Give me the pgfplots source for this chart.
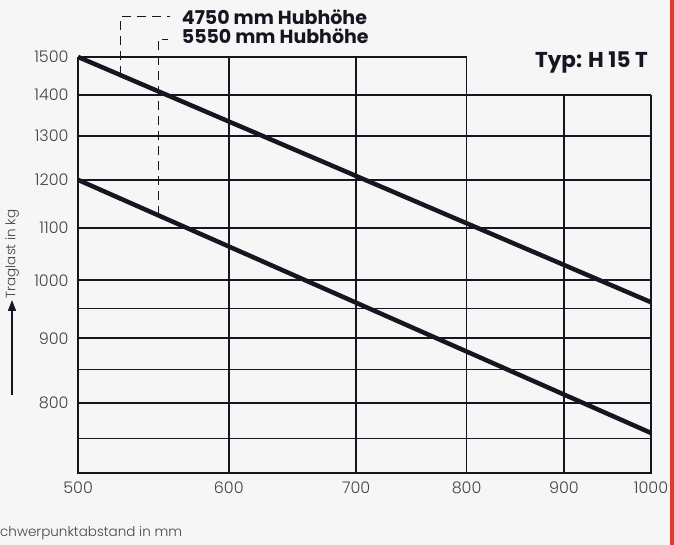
\documentclass[border=0pt]{standalone}
\usepackage{fontspec}
\setmainfont{Poppins}[UprightFont=* Light, BoldFont=* Bold]
\usepackage{pgfplots}
\pgfplotsset{compat=1.18}
\usetikzlibrary{arrows.meta}
\definecolor{ink}{HTML}{15161F}
\definecolor{lab}{HTML}{444444}
\definecolor{bg}{HTML}{F6F6F6}
\definecolor{scanred}{HTML}{E23A2E}
\begin{document}
\begin{tikzpicture}
\fill[bg] (-78pt,-72pt) rectangle (596pt,473pt);
\path[use as bounding box] (-78pt,-72pt) rectangle (596pt,473pt);
\fill[scanred] (592pt,-72pt) rectangle (596pt,473pt);
\begin{axis}[at={(0pt,0pt)}, anchor=south west, scale only axis,
  width=573pt, height=416pt,
  xmode=log, ymode=log, xmin=500, xmax=1000, ymin=705, ymax=1500,
  axis line style={draw=none}, major tick length=0pt, minor tick length=0pt,
  xtick={500,600,700,800,900,1000}, xticklabels={500,600,700,800,900,1000},
  ytick={800,900,1000,1100,1200,1300,1400,1500},
  yticklabels={800,900,1000,1100,1200,1300,1400,1500},
  ticklabel style={font=\fontsize{16}{19}\selectfont, text=lab},
  /pgf/number format/assume math mode=true,
  xticklabel style={yshift=-5pt},
  yticklabel style={xshift=-6pt},
  clip=false]
% grid
\addplot[ink, line width=1.9pt] coordinates {(500,1500)(800,1500)};
\addplot[ink, line width=1.8pt] coordinates {(500,1400)(1000,1400)};
\addplot[ink, line width=1.8pt] coordinates {(500,1300)(1000,1300)};
\addplot[ink, line width=1.8pt] coordinates {(500,1200)(1000,1200)};
\addplot[ink, line width=1.8pt] coordinates {(500,1100)(1000,1100)};
\addplot[ink, line width=1.8pt] coordinates {(500,1000)(1000,1000)};
\addplot[ink, line width=1.1pt] coordinates {(500,950)(1000,950)};
\addplot[ink, line width=1.8pt] coordinates {(500,900)(1000,900)};
\addplot[ink, line width=1.1pt] coordinates {(500,850)(1000,850)};
\addplot[ink, line width=1.8pt] coordinates {(500,800)(1000,800)};
\addplot[ink, line width=1.1pt] coordinates {(500,750)(1000,750)};
\addplot[ink, line width=1.6pt] coordinates {(600,705)(600,1500)};
\addplot[ink, line width=1.6pt] coordinates {(700,705)(700,1500)};
\addplot[ink, line width=1.6pt] coordinates {(800,705)(800,1500)};
\addplot[ink, line width=1.6pt] coordinates {(900,705)(900,1400)};
% frame
\addplot[ink, line width=2.2pt] coordinates {(500,1500)(500,705)(1000,705)(1000,1400)};
% load curves
\addplot[ink, line width=4.5pt] coordinates {(500,1500)(1000,961)};
\addplot[ink, line width=4.5pt] coordinates {(500,1200)(1000,758)};
% leaders
\addplot[ink, line width=1.2pt, dash pattern=on 9pt off 6pt] coordinates {(526.5,1451)(526.5,1614)(558.8,1614)};
\addplot[ink, line width=1.2pt, dash pattern=on 9pt off 6pt] coordinates {(551,1125)(551,1549)(557.5,1549)};
\end{axis}
\node[anchor=base west, inner sep=0pt, text=ink, font=\fontsize{19}{22}\selectfont\bfseries] at (103.7pt,448.7pt) {4750 mm Hubhöhe};
\node[anchor=base west, inner sep=0pt, text=ink, font=\fontsize{19}{22}\selectfont\bfseries] at (103.7pt,429.7pt) {5550 mm Hubhöhe};
\node[anchor=base east, inner sep=0pt, text=ink, font=\fontsize{21.5}{25}\selectfont\bfseries] at (570pt,405pt) {Typ: H 15 T};
\node[rotate=90, inner sep=0pt, text=lab, font=\fontsize{13.5}{16}\selectfont] at (-66pt,219pt) {Traglast in kg};
\draw[ink, line width=1.5pt, -{Triangle[length=11pt,width=8pt]}] (-66pt,78pt) -- (-66pt,173pt);
\node[anchor=base west, inner sep=0pt, text=lab, font=\fontsize{13.5}{16}\selectfont] at (-78pt,-64pt) {\llap{S}chwerpunktabstand in mm};
\end{tikzpicture}
\end{document}
